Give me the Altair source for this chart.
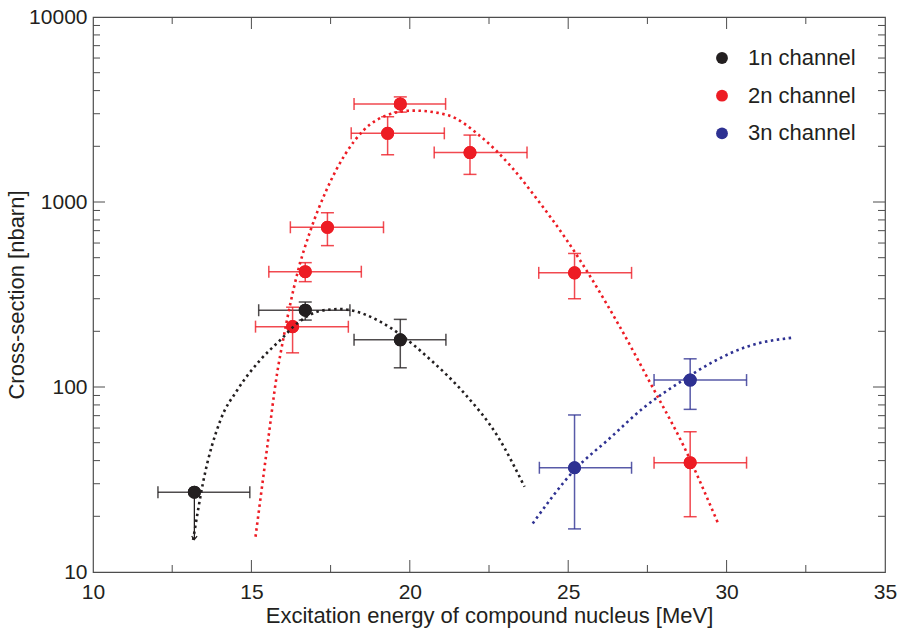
import altair as alt
import pandas as pd

# ---------------- data ----------------
channels = ["1n channel", "2n channel", "3n channel"]
colors = ["#231f20", "#ed1c24", "#2e3192"]

# 1n channel (first point is an upper limit)
n1_E = [13.2, 16.7, 19.7]
n1_sigma = [27, 260, 180]
n1_E_lo = [12.05, 15.23, 18.24]
n1_E_hi = [14.95, 18.11, 21.14]
n1_s_lo = [None, 230, 127]
n1_s_hi = [None, 288, 232]
n1_limit_E = [13.2]
n1_limit_from = [27]
n1_limit_to = [15]

# 2n channel
n2_E = [16.3, 16.7, 17.4, 19.3, 19.7, 21.9, 25.2, 28.85]
n2_sigma = [212, 420, 730, 2350, 3390, 1850, 414, 39]
n2_E_lo = [15.13, 15.55, 16.23, 18.15, 18.24, 20.77, 24.07, 27.71]
n2_E_hi = [18.06, 18.47, 19.17, 21.09, 21.13, 23.70, 27.0, 30.63]
n2_s_lo = [153, 371, 581, 1800, 3060, 1410, 300, 19.9]
n2_s_hi = [270, 470, 875, 2890, 3700, 2300, 527, 57.3]

# 3n channel
n3_E = [25.2, 28.85]
n3_sigma = [36.6, 109]
n3_E_lo = [24.09, 27.71]
n3_E_hi = [27.0, 30.63]
n3_s_lo = [17.1, 75.7]
n3_s_hi = [70.6, 142]

# dotted fit curves
fit1_E = [13.16, 13.49, 14.02, 14.55, 15.28, 15.92, 16.45, 17.18, 17.8, 18.13,
          19.08, 19.72, 20.66, 21.72, 22.78, 23.62]
fit1_sigma = [14.9, 31.4, 66, 96, 140, 180, 221, 258, 264, 260,
              225, 191, 140, 92.5, 53.9, 28.9]
fit2_E = [15.13, 15.5, 15.81, 16.02, 16.45, 16.87, 17.37, 18.55, 19.29, 20.1,
          21.19, 22.25, 23.2, 24.04, 24.95, 26.6, 27.68, 28.63, 29.72]
fit2_sigma = [15.5, 47.5, 118, 187, 411, 706, 1160, 2450, 2950, 3120,
              2950, 2250, 1553, 1023, 624, 216, 98.4, 48.5, 18.5]
fit3_E = [23.88, 25.2, 26.31, 27.36, 28.63, 29.58, 30.63, 32.11]
fit3_sigma = [18.3, 35.6, 52.8, 76.7, 109, 137, 165, 185]

# axes
x_labels = [10, 15, 20, 25, 30, 35]
y_labels = [10, 100, 1000, 10000]
x_major = [15, 20, 25, 30]
x_minor = [12.5, 17.5, 22.5, 27.5, 32.5]
y_major = [100, 1000]
y_minor = [20, 30, 40, 50, 60, 70, 80, 90,
           200, 300, 400, 500, 600, 700, 800, 900,
           2000, 3000, 4000, 5000, 6000, 7000, 8000, 9000]

# ---------------- tables ----------------
def series(name, E, s, Elo, Ehi, slo, shi):
    return pd.DataFrame({"channel": name, "E": E, "sigma": s, "E_lo": Elo,
                         "E_hi": Ehi, "s_lo": slo, "s_hi": shi})

pts = pd.concat([
    series(channels[0], n1_E, n1_sigma, n1_E_lo, n1_E_hi, n1_s_lo, n1_s_hi),
    series(channels[1], n2_E, n2_sigma, n2_E_lo, n2_E_hi, n2_s_lo, n2_s_hi),
    series(channels[2], n3_E, n3_sigma, n3_E_lo, n3_E_hi, n3_s_lo, n3_s_hi),
], ignore_index=True)
pts["s_lo"] = pd.to_numeric(pts["s_lo"])
pts["s_hi"] = pd.to_numeric(pts["s_hi"])
vbars = pts.dropna(subset=["s_lo"])

hcaps = pd.concat([
    pts[["channel", "E_lo", "sigma"]].rename(columns={"E_lo": "cx"}),
    pts[["channel", "E_hi", "sigma"]].rename(columns={"E_hi": "cx"}),
], ignore_index=True)
vcaps = pd.concat([
    vbars[["channel", "E", "s_lo"]].rename(columns={"s_lo": "cy"}),
    vbars[["channel", "E", "s_hi"]].rename(columns={"s_hi": "cy"}),
], ignore_index=True)

fits = pd.concat([
    pd.DataFrame({"channel": channels[0], "E": fit1_E, "sigma": fit1_sigma}),
    pd.DataFrame({"channel": channels[1], "E": fit2_E, "sigma": fit2_sigma}),
    pd.DataFrame({"channel": channels[2], "E": fit3_E, "sigma": fit3_sigma}),
], ignore_index=True)

limit = pd.DataFrame({"E": n1_limit_E, "top": n1_limit_from, "bot": n1_limit_to})

# ---------------- chart ----------------
W, H = 792, 555
FONT = "Liberation Sans"
TXT = "#231f20"
FRAME = "#4d4d4d"

xs = alt.Scale(domain=[10, 35], nice=False, zero=False)
ys = alt.Scale(type="log", domain=[10, 10000], nice=False)
cs = alt.Scale(domain=channels, range=colors)
col_nolegend = alt.Color("channel:N", scale=cs, legend=None)

# one shared axis definition used by every layer (no conflicts when merging)
AX_X = alt.Axis(
    values=x_labels, format="d", ticks=False, domain=False, grid=False,
    labelFont=FONT, labelFontSize=21, labelColor=TXT, labelPadding=9,
    labelFlush=False, labelOverlap=False,
    title="Excitation energy of compound nucleus [MeV]",
    titleFont=FONT, titleFontSize=22, titleFontWeight="normal",
    titleColor=TXT, titlePadding=3)
AX_Y = alt.Axis(
    values=y_labels, format="d", ticks=False, domain=False, grid=False,
    labelFont=FONT, labelFontSize=21, labelColor=TXT, labelPadding=6,
    labelFlush=False, labelOverlap=False,
    title="Cross-section [nbarn]",
    titleFont=FONT, titleFontSize=22, titleFontWeight="normal",
    titleColor=TXT, titlePadding=0)


def X(field):
    return alt.X(field, scale=xs, axis=AX_X)


def Y(field):
    return alt.Y(field, scale=ys, axis=AX_Y)


PT_SIZE = 170

# first layer: carries the legend (points are drawn again on top later)
guide_layer = alt.Chart(pts).mark_circle(size=PT_SIZE, opacity=1).encode(
    x=X("E:Q"), y=Y("sigma:Q"),
    color=alt.Color("channel:N", scale=cs, legend=alt.Legend(
        title=None, orient="none", legendX=618, legendY=30, padding=0,
        labelFont=FONT, labelFontSize=22, labelColor=TXT, labelOffset=15,
        symbolType="circle", symbolSize=140, symbolStrokeWidth=0,
        rowPadding=15.7)),
)


def xticks(vals, length, top):
    df = pd.DataFrame({"v": vals})
    y0 = 0 if top else H
    y1 = length if top else H - length
    return alt.Chart(df).mark_rule(color=FRAME, strokeWidth=1).encode(
        x=X("v:Q"), y=alt.value(y0), y2=alt.value(y1))


def yticks(vals, length, right):
    df = pd.DataFrame({"v": vals})
    x0 = W if right else 0
    x1 = W - length if right else length
    return alt.Chart(df).mark_rule(color=FRAME, strokeWidth=1).encode(
        y=Y("v:Q"), x=alt.value(x0), x2=alt.value(x1))


tick_layers = [
    xticks(x_major, 12, False), xticks(x_major, 12, True),
    xticks(x_minor, 7, False), xticks(x_minor, 7, True),
    yticks(y_major, 12, False), yticks(y_major, 12, True),
    yticks(y_minor, 7, False), yticks(y_minor, 7, True),
]

EB_W = 1.5
EB_OP = 0.8

hbar = alt.Chart(pts).mark_rule(strokeWidth=EB_W, opacity=EB_OP).encode(
    x=X("E_lo:Q"), x2="E_hi:Q", y=Y("sigma:Q"), color=col_nolegend)
vbar = alt.Chart(vbars).mark_rule(strokeWidth=EB_W, opacity=EB_OP).encode(
    x=X("E:Q"), y=Y("s_lo:Q"), y2="s_hi:Q", color=col_nolegend)
hcap = alt.Chart(hcaps).mark_tick(orient="vertical", size=12, thickness=EB_W, opacity=EB_OP).encode(
    x=X("cx:Q"), y=Y("sigma:Q"), color=col_nolegend)
vcap = alt.Chart(vcaps).mark_tick(orient="horizontal", size=13, thickness=EB_W, opacity=EB_OP).encode(
    x=X("E:Q"), y=Y("cy:Q"), color=col_nolegend)

arrow_line = alt.Chart(limit).mark_rule(strokeWidth=1.3, color=TXT).encode(
    x=X("E:Q"), y=Y("top:Q"), y2="bot:Q")
arrow_head = alt.Chart(limit).mark_point(
    shape="M-1,-1.2L0,0L1,-1.2", filled=False, size=30, strokeWidth=1.3, color=TXT,
    opacity=1).encode(x=X("E:Q"), y=Y("bot:Q"))

fit_lines = alt.Chart(fits).mark_line(
    strokeDash=[2.5, 3.5], strokeWidth=2.6, interpolate="monotone").encode(
    x=X("E:Q"), y=Y("sigma:Q"), color=col_nolegend, detail="channel:N")

points = alt.Chart(pts).mark_circle(size=PT_SIZE, opacity=1).encode(
    x=X("E:Q"), y=Y("sigma:Q"), color=col_nolegend)

chart = alt.layer(
    guide_layer, *tick_layers, hbar, vbar, hcap, vcap, arrow_line, arrow_head,
    points, fit_lines
).properties(
    width=W, height=H,
    autosize=alt.AutoSizeParams(type="none"),
    padding={"left": 93, "top": 17, "right": 15, "bottom": 59},
    background="white",
).configure_view(stroke=FRAME, strokeWidth=1.2)

chart.save("out.html", embed_options={"renderer": "svg", "actions": False})
